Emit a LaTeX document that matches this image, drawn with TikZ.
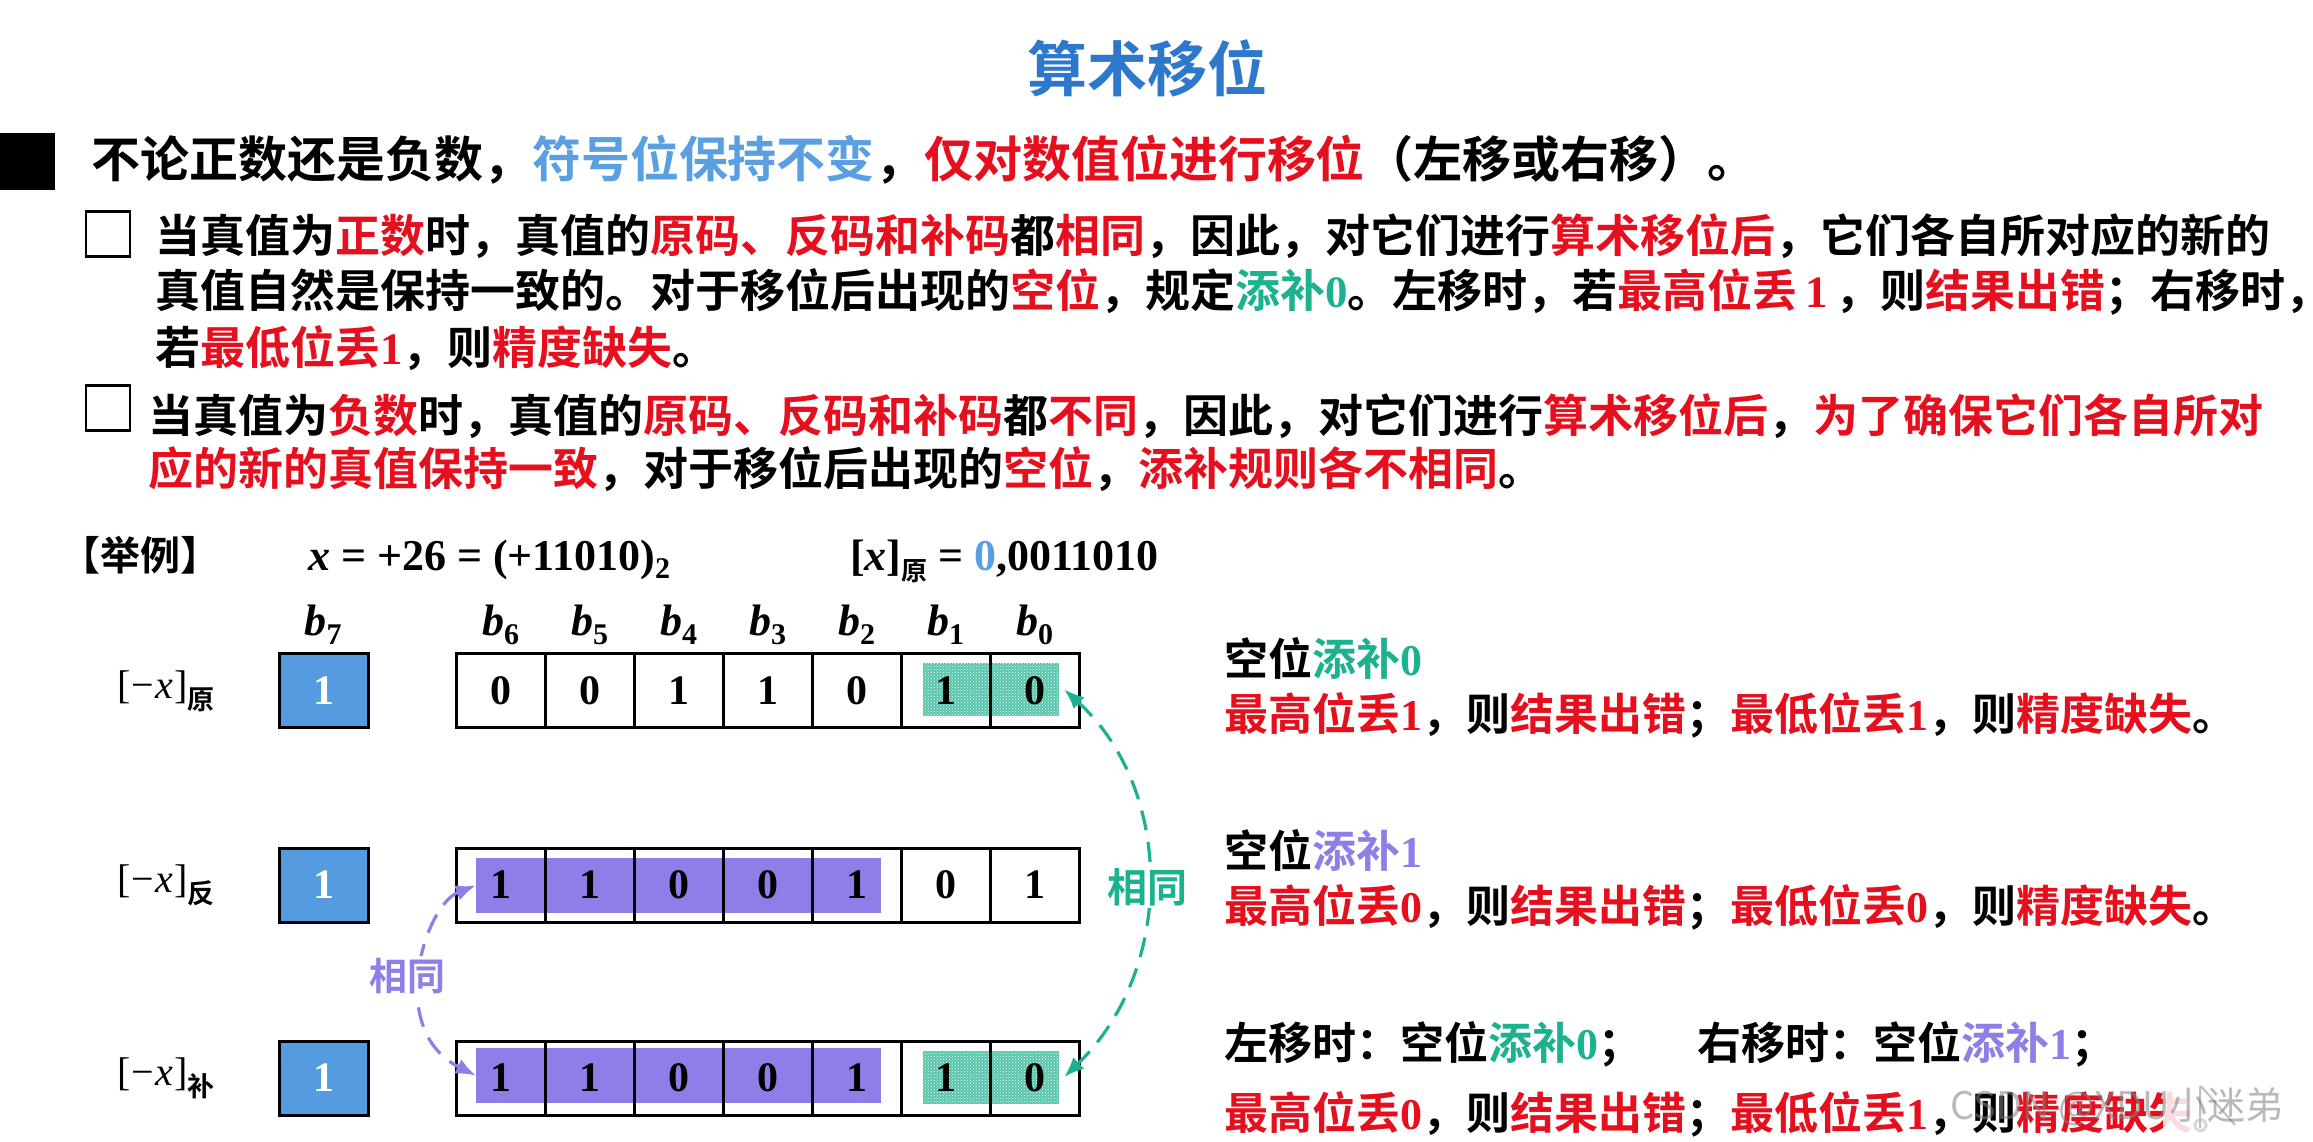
\documentclass[tikz,border=0pt]{standalone}
\usepackage{fontspec}
\usetikzlibrary{patterns,arrows.meta}
\setmainfont{Noto Sans CJK SC}[BoldFont={Noto Sans CJK SC Bold}]
\newfontfamily\cjkb{Noto Sans CJK SC Bold}
\newfontfamily\sbf{Liberation Serif Bold}
\newfontfamily\sbi{Liberation Serif Bold Italic}
\newfontfamily\srm{Liberation Serif}
\newfontfamily\sit{Liberation Serif Italic}
\definecolor{myred}{HTML}{E60F1E}
\definecolor{mygreen}{HTML}{1DB28F}
\definecolor{mypurple}{HTML}{8F7EE8}
\definecolor{myblue}{HTML}{5B9FE3}
\definecolor{cellblue}{HTML}{559BE0}
\definecolor{titleblue}{HTML}{2E78CC}
\newcommand{\cred}[1]{\textcolor{myred}{#1}}
\newcommand{\cgrn}[1]{\textcolor{mygreen}{#1}}
\newcommand{\cpur}[1]{\textcolor{mypurple}{#1}}
\newcommand{\cblu}[1]{\textcolor{myblue}{#1}}
\newcommand{\dg}[1]{{\sbf #1}}
\newcommand{\fs}[1]{\fontsize{#1}{#1}\selectfont}
\newcommand{\bsub}[2]{{\fs{44}\sbi b\raisebox{-9pt}{\fs{30}\sbf #1}}}
\newcommand{\lbl}[1]{{\fs{40}\sit\srm[\hspace{1pt}−\hspace{1pt}{\sit x}\hspace{1pt}]\raisebox{-11pt}{\fs{27}\cjkb #1}}}
\tikzset{
  tx/.style={anchor=base west,inner sep=0pt,outer sep=0pt,font=\cjkb\fs{45}},
  txl/.style={tx,font=\cjkb\fs{49}},
  txr/.style={tx,font=\cjkb\fs{44}},
  mathtx/.style={anchor=base west,inner sep=0pt,outer sep=0pt,font=\sbf\fs{44}},
  chk/.style={draw=black,line width=2.5pt,fill=white,inner sep=0pt,minimum width=44pt,minimum height=45pt},
  cellbox/.style={draw=black,line width=3pt,inner sep=0pt,minimum width=89pt,minimum height=74pt,font=\sbf\fs{42}},
  signbox/.style={draw=black,line width=3pt,fill=cellblue,text=white,inner sep=0pt,minimum width=89pt,minimum height=74pt,font=\sbf\fs{42}},
  purplefill/.style={fill=mypurple,inner sep=0pt,minimum width=405pt,minimum height=55pt},
  greenfill/.style={fill=mygreen!75!white,postaction={pattern=crosshatch dots,pattern color=white},inner sep=0pt,minimum width=136pt,minimum height=53pt},
  head/.style={inner sep=0pt},
  samearrow/.style={line width=3.2pt,dash pattern=on 20pt off 12pt,{Latex[length=20pt,width=16pt]}-{Latex[length=20pt,width=16pt]}},
}
\begin{document}
\begin{tikzpicture}[x=1pt,y=-1pt]
\useasboundingbox (0,0) rectangle (2313,1142);
\fill[white] (0,0) rectangle (2313,1142);
% title
\node[anchor=center,inner sep=0pt,font=\cjkb\fs{60},text=titleblue] (title) at (1147,68) {算术移位};
% main bullet
\fill[black] (0,133) rectangle (55,190);
\node[txl] (l0) at (91,178) {不论正数还是负数，\cblu{符号位保持不变}，\cred{仅对数值位进行移位}（左移或右移）。};
% sub 1
\node[chk] (box1) at (108,234) {};
\node[tx] (l1) at (155,252) {当真值为\cred{正数}时，真值的\cred{原码、反码和补码}都\cred{相同}，因此，对它们进行\cred{算术移位后}，它们各自所对应的新的};
\node[tx] (l2) at (155,307) {真值自然是保持一致的。对于移位后出现的\cred{空位}，规定\cgrn{添补\dg{0}}。左移时，若\cred{最高位丢\dg{\,1\,}}，则\cred{结果出错}；右移时，};
\node[tx] (l3) at (155,364) {若\cred{最低位丢\dg{1}}，则\cred{精度缺失}。};
% sub 2
\node[chk] (box2) at (108,408) {};
\node[tx] (l4) at (148,432) {当真值为\cred{负数}时，真值的\cred{原码、反码和补码}都\cred{不同}，因此，对它们进行\cred{算术移位后}，\cred{为了确保它们各自所对}};
\node[tx] (l5) at (148,485) {\cred{应的新的真值保持一致}，对于移位后出现的\cred{空位}，\cred{添补规则各不相同}。};
% example
\node[tx,font=\cjkb\fs{40}] (ex) at (60,570) {【举例】};
\node[mathtx] (m1) at (308,570) {{\sbi x} = +26 = (+11010)\raisebox{-8pt}{\fs{30}2}};
\node[mathtx] (m2) at (850,570) {[{\sbi x}]\raisebox{-10pt}{\fs{26}\cjkb 原} = \cblu{0},0011010};
% headers
\node[head] (b7) at (323,625) {\bsub{7}{}};
\foreach \i/\n in {0/6,1/5,2/4,3/3,4/2,5/1,6/0}{
  \node[head] (b\n) at ({500.5+89*\i},625) {\bsub{\n}{}};
}
% row labels
\node[head] (r1) at (166,691) {\lbl{原}};
\node[head] (r2) at (166,885) {\lbl{反}};
\node[head] (r3) at (166,1078) {\lbl{补}};
% highlights
\node[greenfill] (g1) at (991,689.5) {};
\node[purplefill] (p2) at (678.5,885.5) {};
\node[purplefill] (p3) at (678.5,1075.5) {};
\node[greenfill] (g3) at (991,1077) {};
% sign boxes
\node[signbox] (s1) at (323.5,690.5) {1};
\node[signbox] (s2) at (323.5,885) {1};
\node[signbox] (s3) at (323.5,1078) {1};
% cells
\foreach \i/\d in {0/0,1/0,2/1,3/1,4/0,5/1,6/0}{
  \node[cellbox] (a\i) at ({500.5+89*\i},690.5) {\d};
}
\foreach \i/\d in {0/1,1/1,2/0,3/0,4/1,5/0,6/1}{
  \node[cellbox] (c\i) at ({500.5+89*\i},885) {\d};
}
\foreach \i/\d in {0/1,1/1,2/0,3/0,4/1,5/1,6/0}{
  \node[cellbox] (e\i) at ({500.5+89*\i},1078) {\d};
}
% arrows
\draw[samearrow,draw=mygreen] ([xshift=5pt]g1.east) .. controls (1175,790) and (1175,970) .. ([xshift=5pt]g3.east);
\draw[samearrow,draw=mypurple] (p2.west) .. controls (425,905) and (385,1030) .. (p3.west);
\node[fill=white,inner sep=2pt,font=\cjkb\fs{40},text=mygreen] (same1) at (1147,887) {相同};
\node[fill=white,inner sep=2pt,font=\cjkb\fs{38},text=mypurple] (same2) at (407,976) {相同};
% right column
\node[txr] (q1) at (1224,675) {空位\cgrn{添补\dg{0}}};
\node[txr] (q2) at (1224,730) {\cred{最高位丢\dg{1}}，则\cred{结果出错}；\cred{最低位丢\dg{1}}，则\cred{精度缺失}。};
\node[txr] (q3) at (1224,867) {空位\cpur{添补\dg{1}}};
\node[txr] (q4) at (1224,922) {\cred{最高位丢\dg{0}}，则\cred{结果出错}；\cred{最低位丢\dg{0}}，则\cred{精度缺失}。};
\node[txr] (q5) at (1224,1059) {左移时：空位\cgrn{添补\dg{0}}；};
\node[txr] (q6) at (1697,1059) {右移时：空位\cpur{添补\dg{1}}；};
\node[txr] (q7) at (1224,1129) {\cred{最高位丢\dg{0}}，则\cred{结果出错}；\cred{最低位丢\dg{1}}，则\cred{精度缺失}。};
% player icon and watermark
\fill[white,opacity=.85,rounded corners=18pt] (2163,1060) rectangle (2268,1142);
\fill[white,opacity=.85] (2185,1065) -- (2192,1028) -- (2212,1060) -- cycle;
\fill[white,opacity=.85] (2245,1065) -- (2238,1028) -- (2220,1060) -- cycle;
\draw[gray!50,line width=2pt,rounded corners=3pt] (2200,1128) -- (2200,1085) -- (2235,1125);
\node[anchor=center,inner sep=0pt,font=\fs{38},text=gray,opacity=.55] (wm) at (2117,1107) {CSDN @XDU小迷弟};
\end{tikzpicture}
\end{document}
